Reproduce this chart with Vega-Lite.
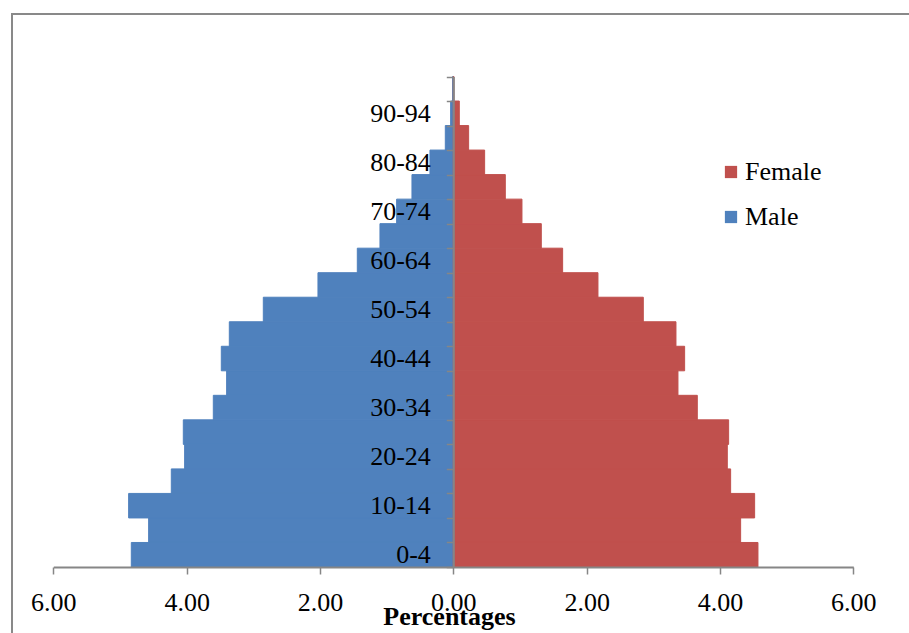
{
  "$schema": "https://vega.github.io/schema/vega-lite/v6.json",
  "autosize": {"type": "none"},
  "width": 900,
  "height": 622,
  "padding": {"left": 12, "top": 14, "right": -3, "bottom": -3},
  "background": "white",
  "config": {
    "view": {"stroke": "#898989", "strokeWidth": 2},
    "font": "Liberation Serif"
  },
  "data": {
    "values": [
      {"age": "0-4", "sex": "Male", "percent": -4.83},
      {"age": "5-9", "sex": "Male", "percent": -4.57},
      {"age": "10-14", "sex": "Male", "percent": -4.87},
      {"age": "15-19", "sex": "Male", "percent": -4.23},
      {"age": "20-24", "sex": "Male", "percent": -4.03},
      {"age": "25-29", "sex": "Male", "percent": -4.05},
      {"age": "30-34", "sex": "Male", "percent": -3.6},
      {"age": "35-39", "sex": "Male", "percent": -3.4},
      {"age": "40-44", "sex": "Male", "percent": -3.48},
      {"age": "45-49", "sex": "Male", "percent": -3.36},
      {"age": "50-54", "sex": "Male", "percent": -2.85},
      {"age": "55-59", "sex": "Male", "percent": -2.03},
      {"age": "60-64", "sex": "Male", "percent": -1.44},
      {"age": "65-69", "sex": "Male", "percent": -1.1},
      {"age": "70-74", "sex": "Male", "percent": -0.85},
      {"age": "75-79", "sex": "Male", "percent": -0.62},
      {"age": "80-84", "sex": "Male", "percent": -0.35},
      {"age": "85-89", "sex": "Male", "percent": -0.12},
      {"age": "90-94", "sex": "Male", "percent": -0.04},
      {"age": "95-99", "sex": "Male", "percent": -0.01},
      {"age": "0-4", "sex": "Female", "percent": 4.57},
      {"age": "5-9", "sex": "Female", "percent": 4.31},
      {"age": "10-14", "sex": "Female", "percent": 4.52},
      {"age": "15-19", "sex": "Female", "percent": 4.16},
      {"age": "20-24", "sex": "Female", "percent": 4.11},
      {"age": "25-29", "sex": "Female", "percent": 4.13},
      {"age": "30-34", "sex": "Female", "percent": 3.66},
      {"age": "35-39", "sex": "Female", "percent": 3.37},
      {"age": "40-44", "sex": "Female", "percent": 3.47},
      {"age": "45-49", "sex": "Female", "percent": 3.34},
      {"age": "50-54", "sex": "Female", "percent": 2.85},
      {"age": "55-59", "sex": "Female", "percent": 2.17},
      {"age": "60-64", "sex": "Female", "percent": 1.64},
      {"age": "65-69", "sex": "Female", "percent": 1.32},
      {"age": "70-74", "sex": "Female", "percent": 1.03},
      {"age": "75-79", "sex": "Female", "percent": 0.78},
      {"age": "80-84", "sex": "Female", "percent": 0.47},
      {"age": "85-89", "sex": "Female", "percent": 0.23},
      {"age": "90-94", "sex": "Female", "percent": 0.09},
      {"age": "95-99", "sex": "Female", "percent": 0.01}
    ]
  },
  "mark": {"type": "bar", "strokeWidth": 1},
  "encoding": {
    "y": {
      "field": "age",
      "type": "nominal",
      "sort": ["95-99", "90-94", "85-89", "80-84", "75-79", "70-74", "65-69", "60-64", "55-59", "50-54", "45-49", "40-44", "35-39", "30-34", "25-29", "20-24", "15-19", "10-14", "5-9", "0-4"],
      "scale": {"range": [62.5, 553], "paddingInner": 0, "paddingOuter": 0},
      "axis": {
        "title": null,
        "orient": "left",
        "offset": -441.3,
        "zindex": 1,
        "tickBand": "extent",
        "labelExpr": "toNumber(split(datum.value, '-')[0]) % 10 === 0 ? datum.value : ''",
        "labelFont": "Liberation Serif",
        "labelFontSize": 26,
        "labelColor": "#000000",
        "labelPadding": 16,
        "labelOverlap": false,
        "labelAngle": 0,
        "tickSize": 7,
        "tickColor": "#868686",
        "tickWidth": 1.5,
        "domainColor": "#868686",
        "domainWidth": 2,
        "grid": false
      }
    },
    "x": {
      "field": "percent",
      "type": "quantitative",
      "stack": null,
      "scale": {"domain": [-6, 6], "range": [41.3, 841.3], "nice": false, "zero": false},
      "axis": {
        "title": "Percentages",
        "values": [-6, -4, -2, 0, 2, 4, 6],
        "labelExpr": "format(abs(datum.value), '.2f')",
        "offset": -69,
        "zindex": 1,
        "labelFont": "Liberation Serif",
        "labelFontSize": 26,
        "labelColor": "#000000",
        "labelBaseline": "alphabetic",
        "labelPadding": 36,
        "labelFlush": false,
        "labelOverlap": false,
        "tickSize": 7,
        "tickColor": "#868686",
        "tickWidth": 1.5,
        "domainColor": "#868686",
        "domainWidth": 2,
        "grid": false,
        "titleFont": "Liberation Serif",
        "titleFontSize": 26,
        "titleFontWeight": "bold",
        "titleColor": "#000000",
        "titleBaseline": "alphabetic",
        "titleX": 437,
        "titleY": 57
      }
    },
    "color": {
      "field": "sex",
      "type": "nominal",
      "scale": {"domain": ["Female", "Male"], "range": ["#C0504D", "#4F81BD"]},
      "legend": {
        "title": null,
        "orient": "none",
        "legendX": 706,
        "legendY": 145,
        "padding": 0,
        "symbolType": "square",
        "symbolSize": 150,
        "symbolStrokeWidth": 0,
        "labelFont": "Liberation Serif",
        "labelFontSize": 26,
        "labelColor": "#000000",
        "labelOffset": 1,
        "rowPadding": 19
      }
    },
    "stroke": {
      "field": "sex",
      "type": "nominal",
      "scale": {"domain": ["Female", "Male"], "range": ["#C0504D", "#4F81BD"]},
      "legend": null
    }
  }
}
